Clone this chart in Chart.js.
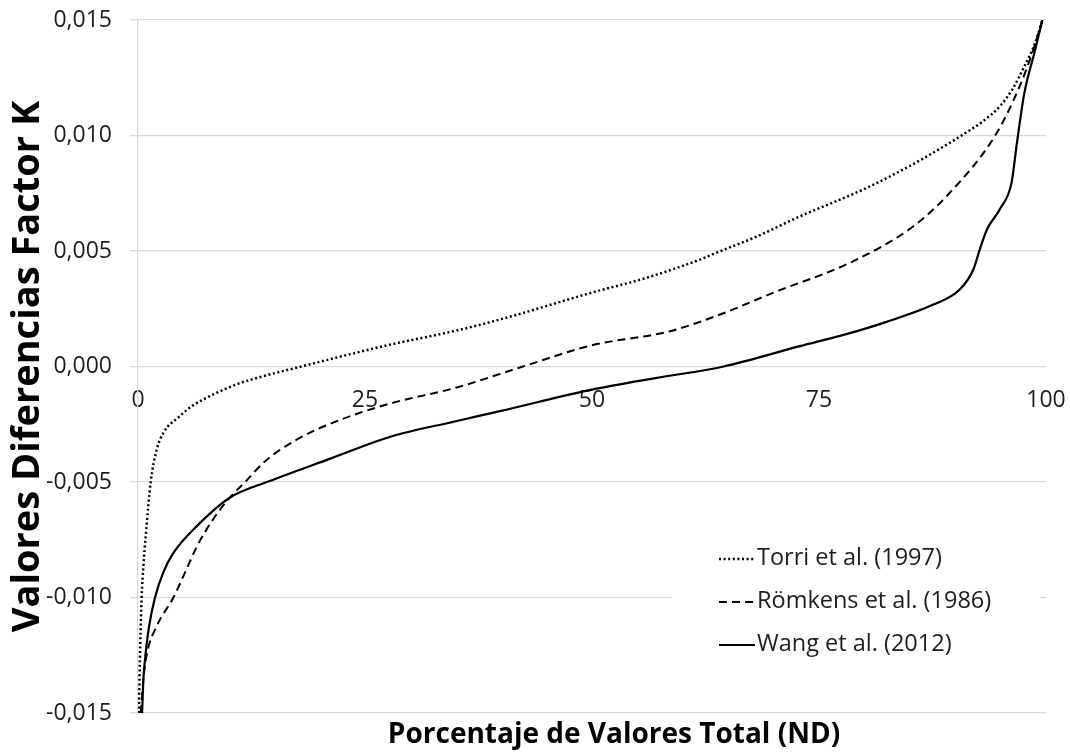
<!DOCTYPE html>
<html>
<head>
<meta charset="utf-8">
<script src="https://cdn.jsdelivr.net/npm/chart.js@4/dist/chart.umd.min.js"></script>
<style>
  html, body { margin: 0; padding: 0; background: #ffffff; }
  #wrap { width: 1070px; height: 753px; }
</style>
</head>
<body>
<div id="wrap"><canvas id="c" width="1070" height="753"></canvas></div>
<script>
// Series: percentage of total values (x) vs. K-factor difference (y)
const seriesLabels = ['Torri et al. (1997)', 'Römkens et al. (1986)', 'Wang et al. (2012)'];
const xAxisTitle = 'Porcentaje de Valores Total (ND)';
const yAxisTitle = 'Valores Diferencias Factor K';

const torriX = [0.1, 0.25, 0.4, 0.6, 0.88, 1.4, 2.06, 2.8, 4.6, 6.0, 8.3, 11, 13.8, 18, 22, 27.8, 35, 40, 50, 56, 61.9, 64.1, 68, 72.9, 80.3, 86, 90.9, 93, 95, 96.3, 97.5, 98.8, 99.6];
const torriY = [-0.0150, -0.0120, -0.0100, -0.0086, -0.0072, -0.0050, -0.0036, -0.00287, -0.00215, -0.0017, -0.00121, -0.00075, -0.00042, 0.0000, 0.0004, 0.00095, 0.00155, 0.00205, 0.0032, 0.00384, 0.00463, 0.00499, 0.0056, 0.0065, 0.00774, 0.0089, 0.01005, 0.0106, 0.0113, 0.0120, 0.0129, 0.0140, 0.0150];

const romkensX = [0.3, 0.6, 1.0, 2.06, 3.9, 5.2, 6.5, 8.3, 10.1, 11.8, 14, 17.5, 22, 27.8, 35, 42.4, 50, 58.6, 64.1, 70, 78.4, 85.4, 89.4, 94.4, 97.1, 98.5, 99.6];
const romkensY = [-0.0150, -0.0135, -0.0124, -0.01124, -0.0100, -0.0089, -0.00778, -0.0066, -0.00568, -0.0050, -0.0041, -0.00316, -0.00235, -0.0016, -0.00092, 0.0000, 0.00092, 0.00153, 0.00225, 0.0032, 0.00449, 0.00607, 0.00752, 0.0100, 0.01213, 0.0136, 0.0150];

const wangX = [0.45, 0.6, 0.77, 1.2, 1.87, 2.8, 3.9, 6.5, 10.1, 14.5, 21.1, 27.8, 35, 40, 50, 57, 64.5, 72.9, 78, 82.1, 87.6, 90.5, 92, 92.7, 93.5, 94.9, 96.2, 96.8, 97.6, 98.8, 99.6];
const wangY = [-0.0150, -0.0135, -0.0127, -0.0113, -0.0100, -0.0089, -0.00807, -0.0069, -0.00568, -0.00496, -0.0040, -0.00304, -0.00237, -0.00192, -0.0010, -0.0005, 0.0000, 0.00088, 0.0014, 0.00189, 0.00268, 0.00333, 0.0042, 0.00506, 0.00593, 0.0068, 0.00795, 0.00968, 0.0118, 0.0137, 0.0150];

const xTicks = [0, 25, 50, 75, 100];
const yTicks = [-0.015, -0.010, -0.005, 0.000, 0.005, 0.010, 0.015];

const FONT = '"Open Sans", Lato, "Liberation Sans", sans-serif';
const GRID = '#d9d9d9';
const TEXT = '#1e1e1e';

function pts(xs, ys) { return xs.map((x, i) => ({ x: x, y: ys[i] })); }

// Scales keep no extra edge padding; the layout padding alone sets the plot box
function noEdgePadding(s) {
  s.paddingTop = 0; s.paddingBottom = 0; s.paddingLeft = 0; s.paddingRight = 0;
}

// Horizontal axis title, under the plot
const bottomTitle = {
  id: 'bottomTitle',
  afterDraw(chart) {
    const ctx = chart.ctx;
    ctx.save();
    ctx.font = 'bold 28px ' + FONT;
    ctx.fillStyle = '#000';
    ctx.textAlign = 'center';
    ctx.textBaseline = 'middle';
    ctx.fillText(xAxisTitle, 614, 735);
    ctx.restore();
  }
};

// Legend drawn inside the plot, lower right, on a white panel
const insideLegend = {
  id: 'insideLegend',
  afterDatasetsDraw(chart) {
    const ctx = chart.ctx;
    const boxLeft = 672, boxRight = 1040, boxTop = 528, boxBottom = 680;
    ctx.save();
    ctx.fillStyle = '#ffffff';
    ctx.fillRect(boxLeft, boxTop, boxRight - boxLeft, boxBottom - boxTop);
    const rows = [558, 601, 644];
    ctx.font = '23.5px ' + FONT;
    ctx.textBaseline = 'middle';
    ctx.textAlign = 'left';
    chart.data.datasets.forEach((ds, i) => {
      const y = rows[i];
      ctx.beginPath();
      ctx.strokeStyle = ds.borderColor;
      ctx.lineWidth = ds.borderWidth;
      ctx.setLineDash(ds.borderDash || []);
      ctx.moveTo(719, y + 1);
      ctx.lineTo(755, y + 1);
      ctx.stroke();
      ctx.setLineDash([]);
      ctx.fillStyle = TEXT;
      ctx.fillText(ds.label, 757, y);
    });
    ctx.restore();
  }
};

new Chart(document.getElementById('c'), {
  type: 'line',
  data: {
    datasets: [
      { label: seriesLabels[0], data: pts(torriX, torriY), borderColor: '#000', borderWidth: 2.5, borderDash: [2, 2.6] },
      { label: seriesLabels[1], data: pts(romkensX, romkensY), borderColor: '#000', borderWidth: 2, borderDash: [8, 5] },
      { label: seriesLabels[2], data: pts(wangX, wangY), borderColor: '#000', borderWidth: 2.2, borderDash: [] }
    ]
  },
  options: {
    responsive: false,
    devicePixelRatio: 1,
    animation: false,
    elements: {
      point: { radius: 0, hoverRadius: 0 },
      line: { cubicInterpolationMode: 'monotone', fill: false }
    },
    layout: { padding: { left: 0, right: 24, top: 20, bottom: 40 } },
    plugins: {
      legend: { display: false },
      tooltip: { enabled: false }
    },
    scales: {
      x: {
        type: 'linear',
        position: { y: 0 },
        min: 0, max: 100,
        afterBuildTicks: (s) => { s.ticks = xTicks.map(v => ({ value: v })); },
        afterFit: noEdgePadding,
        ticks: { font: { family: FONT, size: 23 }, color: TEXT, padding: 20, maxRotation: 0 },
        grid: { display: false, drawTicks: false },
        border: { display: false }
      },
      y: {
        type: 'linear',
        min: -0.015, max: 0.015,
        afterBuildTicks: (s) => { s.ticks = yTicks.map(v => ({ value: v })); },
        afterFit: (s) => { s.width = 138; noEdgePadding(s); },
        ticks: {
          font: { family: FONT, size: 23 },
          color: TEXT,
          padding: 18,
          callback: (v) => v.toFixed(3).replace('.', ',')
        },
        grid: { color: GRID, lineWidth: 1.3, tickLength: 8, tickColor: GRID },
        border: { display: true, color: GRID, width: 1.3 },
        title: {
          display: true,
          text: yAxisTitle,
          font: { family: FONT, size: 38, weight: 'bold' },
          color: '#000',
          padding: { top: 5, bottom: 0 }
        }
      }
    }
  },
  plugins: [insideLegend, bottomTitle]
});
</script>
</body>
</html>
